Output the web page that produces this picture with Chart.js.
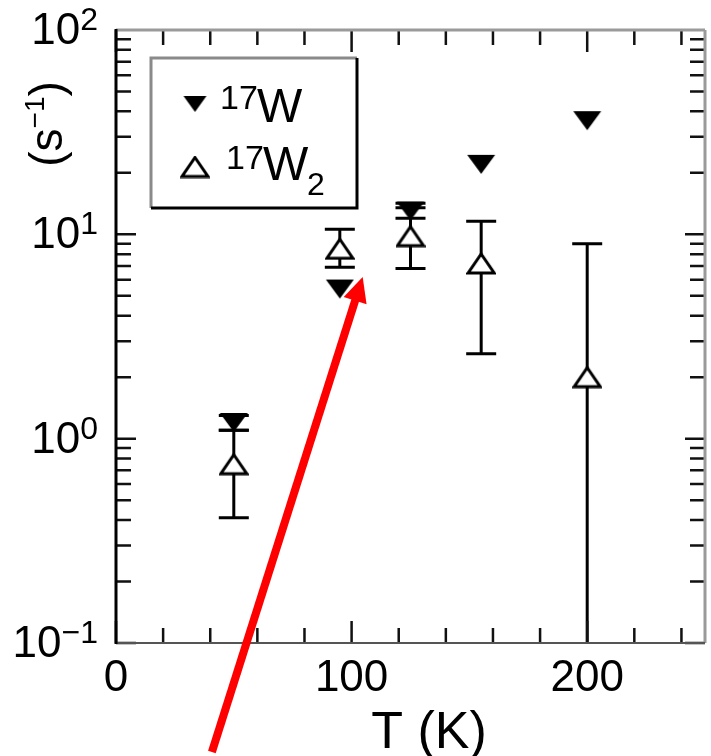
<!DOCTYPE html>
<html>
<head>
<meta charset="utf-8">
<script src="https://cdn.jsdelivr.net/npm/chart.js@4"></script>
<style>
  html, body { margin: 0; padding: 0; background: #fff; overflow: hidden; }
  #wrap { width: 711px; height: 756px; }
  canvas { display: block; }
</style>
</head>
<body>
<div id="wrap"><canvas id="rateChart" width="711" height="756"></canvas></div>
<script>
// Temperatures (K)
const temps = [50, 95, 125, 155, 200];

// 17W rates (s^-1) with error bar limits (null = no bar)
const w17 = [1.2, 5.4, 13, 22, 36];
const w17Low = [1.1, null, 12, null, null];
const w17High = [1.3, null, 14.2, null, null];

// 17W2 rates (s^-1) with error bar limits
const w17b = [0.75, 8.5, 9.8, 7.2, 2.0];
const w17bLow = [0.41, 6.9, 6.8, 2.6, 0.05];
const w17bHigh = [1.1, 10.6, 13.5, 11.6, 9.0];

// axis ticks
const xTickLabels = [0, 100, 200];
const xMinorStep = 20;
const yTickValues = [0.1, 1, 10, 100];
const yTickExponents = ['\u22121', '0', '1', '2'];

// red arrow annotation, in data units (tail, tip)
const arrowTail = { x: 40.7, y: 0.0293 };
const arrowTip = { x: 104.7, y: 6.19 };

const FONT = '"Liberation Sans", Arial, Helvetica, sans-serif';

// flattened triangle markers like the original
function makeMarker(kind, w, h) {
    const c = document.createElement('canvas');
    c.width = w + 4;
    c.height = h + 4;
    const g = c.getContext('2d');
    g.beginPath();
    if (kind === 'down') {
        g.moveTo(2, 2); g.lineTo(w + 2, 2); g.lineTo(w / 2 + 2, h + 2);
    } else {
        g.moveTo(w / 2 + 2, 2); g.lineTo(w + 2, h + 2); g.lineTo(2, h + 2);
    }
    g.closePath();
    if (kind === 'down') {
        g.fillStyle = '#000';
        g.fill();
    } else {
        g.fillStyle = '#fff';
        g.fill();
        g.lineWidth = 3;
        g.strokeStyle = '#000';
        g.stroke();
    }
    return c;
}

const markDown = makeMarker('down', 28, 19);
const markUp = makeMarker('up', 26, 19);
const legendDown = makeMarker('down', 23, 16);
const legendUp = makeMarker('up', 26, 19);

// error bars drawn under the markers
const errorBars = {
    id: 'errorBars',
    beforeDatasetsDraw(chart) {
        const ctx = chart.ctx;
        const xs = chart.scales.x, ys = chart.scales.y;
        const area = chart.chartArea;
        ctx.save();
        ctx.beginPath();
        ctx.rect(area.left, area.top, area.right - area.left, area.bottom - area.top);
        ctx.clip();
        ctx.strokeStyle = '#000';
        ctx.lineWidth = 3;
        const sets = [[w17Low, w17High], [w17bLow, w17bHigh]];
        sets.forEach(([lo, hi]) => {
            temps.forEach((t, i) => {
                if (lo[i] == null || hi[i] == null) return;
                const x = xs.getPixelForValue(t);
                const y1 = ys.getPixelForValue(lo[i]);
                const y2 = ys.getPixelForValue(hi[i]);
                ctx.beginPath();
                ctx.moveTo(x, y1); ctx.lineTo(x, y2);
                ctx.moveTo(x - 15, y1); ctx.lineTo(x + 15, y1);
                ctx.moveTo(x - 15, y2); ctx.lineTo(x + 15, y2);
                ctx.stroke();
            });
        });
        ctx.restore();
    }
};

function drawSup(ctx, x, y, base, sup, baseSize, supSize, rise) {
    ctx.font = baseSize + 'px ' + FONT;
    ctx.fillText(base, x, y);
    const w = ctx.measureText(base).width;
    ctx.font = supSize + 'px ' + FONT;
    ctx.fillText(sup, x + w, y - rise);
    return w + ctx.measureText(sup).width;
}

// frame, inside ticks, labels, legend, arrow
const decorations = {
    id: 'decorations',
    afterDraw(chart) {
        const ctx = chart.ctx;
        const xs = chart.scales.x, ys = chart.scales.y;
        const { left, right, top, bottom } = chart.chartArea;
        ctx.save();

        // ticks
        ctx.strokeStyle = '#111';
        ctx.lineWidth = 2.5;
        ctx.beginPath();
        for (let v = 0; v <= 250; v += xMinorStep) {
            const x = xs.getPixelForValue(v);
            const len = v % 100 === 0 ? 22 : 15;
            ctx.moveTo(x, bottom); ctx.lineTo(x, bottom - len);
            ctx.moveTo(x, top); ctx.lineTo(x, top + len);
        }
        for (let d = -1; d <= 1; d++) {
            for (let m = 1; m <= 9; m++) {
                const v = m * Math.pow(10, d);
                const y = ys.getPixelForValue(v);
                const len = m === 1 ? 20 : 15;
                ctx.moveTo(left, y); ctx.lineTo(left + len, y);
                ctx.moveTo(right, y); ctx.lineTo(right - len, y);
            }
        }
        ctx.stroke();

        // frame
        ctx.lineWidth = 3;
        ctx.strokeStyle = '#9a9a9a';
        ctx.beginPath();
        ctx.moveTo(left, top); ctx.lineTo(right, top);
        ctx.moveTo(right, top); ctx.lineTo(right, bottom);
        ctx.stroke();
        ctx.strokeStyle = '#555';
        ctx.lineWidth = 2;
        ctx.beginPath();
        ctx.moveTo(left, bottom); ctx.lineTo(right, bottom);
        ctx.stroke();
        ctx.strokeStyle = '#000';
        ctx.lineWidth = 3;
        ctx.beginPath();
        ctx.moveTo(left, top - 1); ctx.lineTo(left, bottom + 1);
        ctx.stroke();

        // x tick labels
        ctx.fillStyle = '#000';
        ctx.textBaseline = 'alphabetic';
        ctx.textAlign = 'center';
        ctx.font = '44px ' + FONT;
        xTickLabels.forEach(v => {
            ctx.fillText(String(v), xs.getPixelForValue(v), 691);
        });

        // y tick labels 10^n
        ctx.textAlign = 'left';
        yTickValues.forEach((v, i) => {
            const y = ys.getPixelForValue(v);
            ctx.font = '32px ' + FONT;
            const supW = ctx.measureText(yTickExponents[i]).width;
            ctx.font = '44px ' + FONT;
            const baseW = ctx.measureText('10').width;
            drawSup(ctx, 98 - supW - baseW, y + 14, '10', yTickExponents[i], 44, 32, 14);
        });

        // x axis title
        ctx.textAlign = 'center';
        ctx.font = '52px ' + FONT;
        ctx.fillText('T (K)', 429, 748);

        // y axis title, rotated
        ctx.save();
        ctx.translate(62, 124);
        ctx.rotate(-Math.PI / 2);
        ctx.textAlign = 'left';
        ctx.font = '46px ' + FONT;
        const wA = ctx.measureText('(s').width;
        ctx.font = '28px ' + FONT;
        const wB = ctx.measureText('\u22121').width;
        ctx.font = '46px ' + FONT;
        const wC = ctx.measureText(')').width;
        let x0 = -(wA + wB + wC) / 2;
        ctx.fillText('(s', x0, 0);
        ctx.font = '28px ' + FONT;
        ctx.fillText('\u22121', x0 + wA, -18);
        ctx.font = '46px ' + FONT;
        ctx.fillText(')', x0 + wA + wB, 0);
        ctx.restore();

        // legend box
        ctx.lineWidth = 3;
        ctx.strokeStyle = '#8a8a8a';
        ctx.beginPath();
        ctx.moveTo(151, 208); ctx.lineTo(151, 58); ctx.lineTo(357, 58);
        ctx.stroke();
        ctx.strokeStyle = '#000';
        ctx.beginPath();
        ctx.moveTo(357, 58); ctx.lineTo(357, 208); ctx.lineTo(151, 208);
        ctx.stroke();
        ctx.drawImage(legendDown, 195 - legendDown.width / 2, 104 - legendDown.height / 2);
        ctx.drawImage(legendUp, 195 - legendUp.width / 2, 167 - legendUp.height / 2);
        ctx.textAlign = 'left';
        ctx.fillStyle = '#000';
        ctx.font = '34px ' + FONT;
        ctx.fillText('17', 220, 109);
        ctx.font = '48px ' + FONT;
        ctx.fillText('W', 257, 122);
        ctx.font = '34px ' + FONT;
        ctx.fillText('17', 226, 169);
        ctx.font = '48px ' + FONT;
        ctx.fillText('W', 263, 180);
        ctx.font = '32px ' + FONT;
        ctx.fillText('2', 307, 195);

        // red arrow
        const tx = xs.getPixelForValue(arrowTail.x), ty = ys.getPixelForValue(arrowTail.y);
        const hx = xs.getPixelForValue(arrowTip.x), hy = ys.getPixelForValue(arrowTip.y);
        const len = Math.hypot(hx - tx, hy - ty);
        const ux = (hx - tx) / len, uy = (hy - ty) / len;
        const bx = hx - 25 * ux, by = hy - 25 * uy;
        ctx.strokeStyle = '#ff0000';
        ctx.fillStyle = '#ff0000';
        ctx.lineWidth = 8;
        ctx.beginPath();
        ctx.moveTo(tx, ty); ctx.lineTo(bx + 2 * ux, by + 2 * uy);
        ctx.stroke();
        ctx.beginPath();
        ctx.moveTo(hx, hy);
        ctx.lineTo(bx - 12 * uy, by + 12 * ux);
        ctx.lineTo(bx + 12 * uy, by - 12 * ux);
        ctx.closePath();
        ctx.fill();

        ctx.restore();
    }
};

new Chart(document.getElementById('rateChart'), {
    type: 'scatter',
    data: {
        datasets: [
            {
                label: '17W',
                data: temps.map((t, i) => ({ x: t, y: w17[i] })),
                pointStyle: markDown,
                pointRadius: 2,
                pointHoverRadius: 2,
                showLine: false
            },
            {
                label: '17W2',
                data: temps.map((t, i) => ({ x: t, y: w17b[i] })),
                pointStyle: markUp,
                pointRadius: 2,
                pointHoverRadius: 2,
                showLine: false
            }
        ]
    },
    options: {
        responsive: false,
        animation: false,
        layout: { autoPadding: false, padding: { left: 116, right: 6, top: 30, bottom: 113 } },
        scales: {
            x: { type: 'linear', min: 0, max: 250, display: false },
            y: { type: 'logarithmic', min: 0.1, max: 100, display: false }
        },
        plugins: {
            legend: { display: false },
            tooltip: { enabled: false }
        }
    },
    plugins: [errorBars, decorations]
});
</script>
</body>
</html>
